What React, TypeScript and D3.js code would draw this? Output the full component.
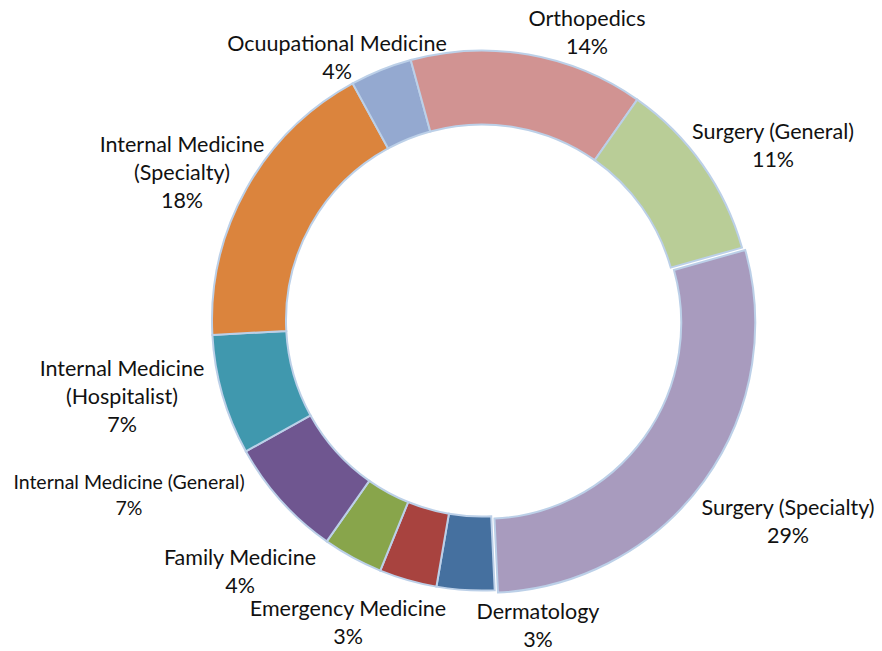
import React, { useEffect, useRef } from "react";
import * as d3 from "d3";

// slice order is alphabetical, as in the source sheet
const categories = [
  "Dermatology",
  "Emergency Medicine",
  "Family Medicine",
  "Internal Medicine (General)",
  "Internal Medicine (Hospitalist)",
  "Internal Medicine (Specialty)",
  "Ocuupational Medicine",
  "Orthopedics",
  "Surgery (General)",
  "Surgery (Specialty)",
];
const shares = [3.45, 3.45, 3.6, 7.2, 7.2, 17.9, 3.7, 14.0, 10.9, 28.6];
const pctLabels = ["3%", "3%", "4%", "7%", "7%", "18%", "4%", "14%", "11%", "29%"];
const labelLines = [
  ["Dermatology"],
  ["Emergency Medicine"],
  ["Family Medicine"],
  ["Internal Medicine (General)"],
  ["Internal Medicine", "(Hospitalist)"],
  ["Internal Medicine", "(Specialty)"],
  ["Ocuupational Medicine"],
  ["Orthopedics"],
  ["Surgery (General)"],
  ["Surgery (Specialty)"],
];
const colors = [
  "#45709F",
  "#A8433F",
  "#88A54B",
  "#6F5690",
  "#4098AE",
  "#DB843D",
  "#94A9D0",
  "#D19392",
  "#B9CD97",
  "#A89BBE",
];

// label anchor (first line centre), relative to the pie centre
const labelPos: [number, number][] = [
  [56, 290],
  [-134, 287],
  [-242, 236],
  [-353, 160],
  [-360, 47],
  [-300, -177],
  [-145, -278],
  [105, -303],
  [291, -190],
  [306, 186],
];

const W = 882;
const H = 651;
const cx = 482;
const cy = 320.5;
const outerR = 270;
const innerR = 196;
const startDeg = 177.3;

export default function App() {
  const ref = useRef<SVGSVGElement>(null);

  useEffect(() => {
    const svg = d3.select(ref.current);
    svg.selectAll("*").remove();

    const data = categories.map((c, i) => ({ name: c, value: shares[i], i }));
    const start = (startDeg * Math.PI) / 180;
    const pie = d3
      .pie<any>()
      .sort(null)
      .value((d) => d.value)
      .startAngle(start)
      .endAngle(start + 2 * Math.PI);
    const arc = d3.arc<any>().innerRadius(innerR).outerRadius(outerR);

    const g = svg.append("g").attr("transform", "translate(" + cx + "," + cy + ")");

    g.selectAll("path")
      .data(pie(data))
      .enter()
      .append("path")
      .attr("d", arc)
      .attr("fill", (d) => colors[d.data.i])
      .attr("stroke", "#BCD0E8")
      .attr("stroke-width", 2)
      .attr("transform", (d) => {
        // the largest slice is pulled out a little
        if (d.data.name !== "Surgery (Specialty)") return null;
        const a = (d.startAngle + d.endAngle) / 2;
        return "translate(" + Math.sin(a) * 4 + "," + -Math.cos(a) * 4 + ")";
      });

    const labels = g
      .selectAll("text")
      .data(data)
      .enter()
      .append("text")
      .attr("text-anchor", "middle")
      .attr("dominant-baseline", "central")
      .attr("font-family", "Lato, sans-serif")
      .attr("font-size", (d) => (d.name === "Internal Medicine (General)" ? 19.5 : 21.5))
      .attr("fill", "#111");

    labels.each(function (d) {
      const t = d3.select(this);
      const lh = d.name === "Internal Medicine (General)" ? 26 : 28;
      const lines = [...labelLines[d.i], pctLabels[d.i]];
      lines.forEach((s, k) => {
        t.append("tspan")
          .attr("x", labelPos[d.i][0])
          .attr("y", labelPos[d.i][1] + k * lh)
          .text(s);
      });
    });
  }, []);

  return (
    <svg ref={ref} width={W} height={H} style={{ position: "absolute", left: 0, top: 0 }}></svg>
  );
}
